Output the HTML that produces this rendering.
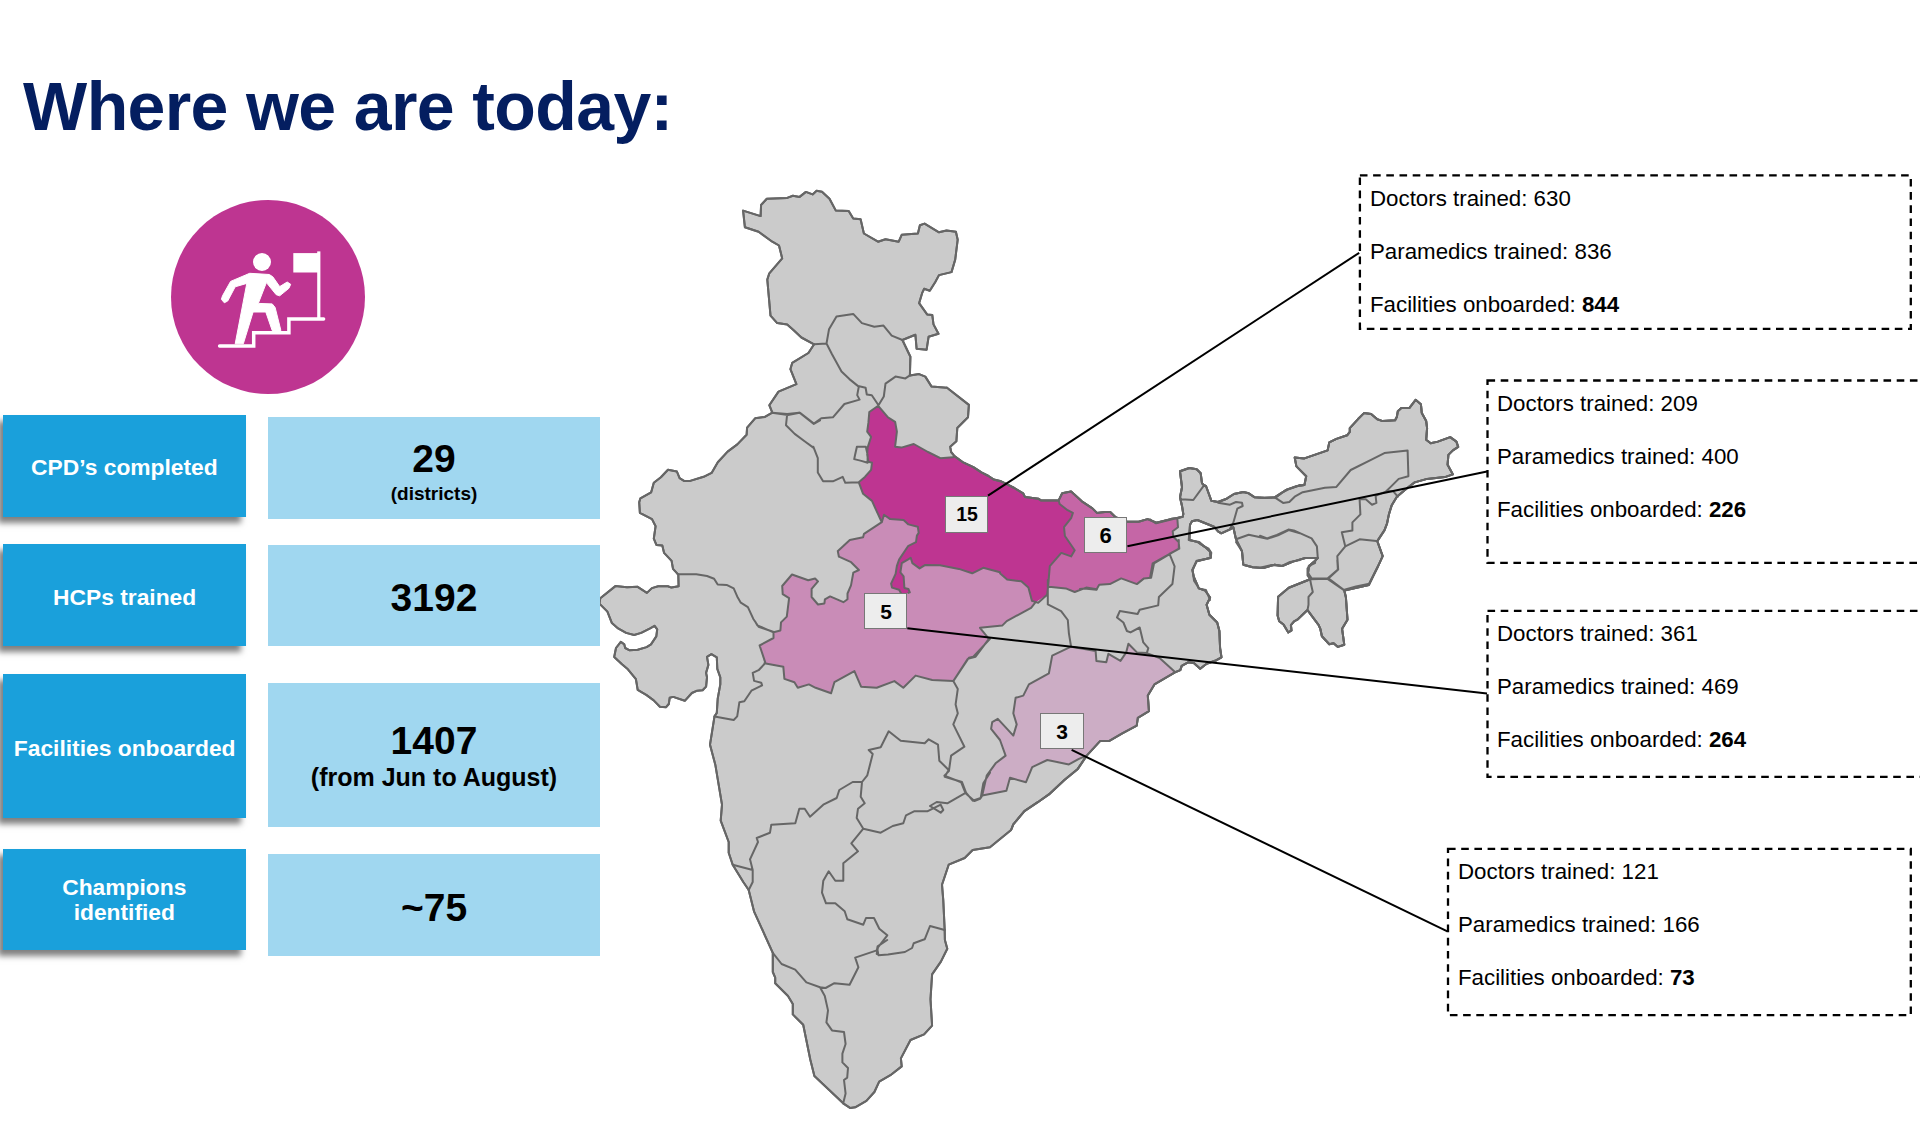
<!DOCTYPE html>
<html><head><meta charset="utf-8">
<style>
html,body{margin:0;padding:0;}
body{width:1920px;height:1125px;background:#fff;position:relative;overflow:hidden;font-family:"Liberation Sans",sans-serif;}
.t{position:absolute;white-space:nowrap;}
.lab{position:absolute;left:3px;width:243px;background:#1AA0DB;box-shadow:-5px 6px 6px rgba(0,0,0,0.5);}
.val{position:absolute;left:268px;width:332px;background:#A0D7F0;}
.mk{position:absolute;background:#EDEDED;border:1.5px solid #777;box-sizing:border-box;}
svg{position:absolute;left:0;top:0;}
</style></head><body>
<svg width="1920" height="1125" viewBox="0 0 1920 1125">
<circle cx="268" cy="297" r="97" fill="#BE3591"/>
<circle cx="262" cy="262" r="9" fill="#fff"/>
<rect x="293.3" y="253.1" width="25" height="19.4" fill="#fff"/>
<rect x="317.2" y="251.4" width="3.2" height="67" fill="#fff"/>
<polygon points="249.7,273.3 269.3,274.5 272.8,276.8 279.7,286.6 287.2,282.0 290.7,284.3 288.9,288.3 279.7,295.8 276.2,294.7 266.4,282.6 258.3,303.4 272.2,303.9 275.1,307.4 280.9,330.5 272.2,330.5 265.8,312.0 253.1,312.0 243.3,343.8 235.2,343.8 246.8,283.4 235.2,286.8 227.7,301.0 224.3,302.8 221.4,299.3 222.5,295.8 230.6,281.4" fill="#fff" stroke="#fff" stroke-width="1" stroke-linejoin="round"/>
<polyline points="219.6,346.1 253.7,346.1 253.7,332.8 288.9,332.8 288.9,318.9 323.6,318.9" fill="none" stroke="#fff" stroke-width="3.5" stroke-linecap="round"/>
<path d="M946.5,387.8 L931.6,386.6 L925.3,376.6 L919.1,374.1 L909.9,375.4 L910.4,356.7 L902.4,340.0 L915.4,334.8 L916.6,348.7 L926.6,349.7 L928.6,336.8 L938.5,333.8 L933.5,324.4 L932.3,315.1 L927.1,314.4 L919.1,303.2 L922.1,293.2 L924.1,288.8 L929.8,290.8 L935.3,282.0 L939.0,275.1 L951.5,272.1 L955.2,259.6 L957.7,239.7 L955.9,231.8 L946.5,230.5 L939.0,232.3 L924.6,223.6 L919.9,225.3 L917.9,233.5 L901.7,234.8 L898.7,241.7 L885.5,239.2 L878.0,241.7 L863.9,233.5 L860.6,219.3 L853.2,218.6 L848.7,211.1 L835.7,210.4 L829.5,198.7 L822.0,191.7 L816.6,190.7 L812.6,194.4 L805.9,191.9 L799.6,196.9 L792.9,195.7 L787.2,197.9 L766.8,198.7 L761.1,204.9 L760.6,216.1 L743.1,210.6 L744.9,227.3 L758.6,231.8 L772.3,241.7 L779.0,245.5 L782.2,258.4 L769.3,273.3 L767.3,279.6 L770.5,315.6 L777.2,323.1 L787.2,324.4 L793.4,330.1 L801.4,337.5 L814.1,344.3 L808.4,353.0 L792.2,362.9 L790.4,369.2 L796.4,384.1 L778.5,391.6 L769.3,405.2 L772.3,412.7 L764.9,416.9 L755.1,418.3 L747.1,427.6 L746.6,434.7 L737.3,444.4 L727.6,451.6 L717.8,462.2 L711.6,472.9 L703.6,476.8 L690.2,480.9 L684.0,480.9 L679.6,478.2 L676.9,471.5 L668.0,469.7 L660.9,477.3 L653.8,482.7 L651.1,492.4 L640.4,498.3 L639.2,502.2 L639.9,512.9 L652.0,519.1 L655.6,526.2 L653.8,538.7 L656.4,544.9 L662.3,545.4 L664.1,552.9 L671.6,560.9 L673.0,568.9 L678.3,574.6 L678.6,586.3 L671.4,587.6 L667.9,586.3 L658.1,586.3 L651.9,588.1 L646.9,592.9 L637.3,586.7 L627.0,587.2 L615.4,586.1 L600.3,598.2 L599.4,603.6 L607.4,611.6 L611.9,623.1 L618.1,628.4 L626.1,632.9 L634.1,635.0 L641.2,632.9 L650.1,628.4 L654.6,625.8 L657.2,629.3 L656.3,636.4 L651.0,644.4 L646.6,647.1 L637.7,649.8 L629.7,650.3 L625.2,648.0 L624.3,644.4 L620.8,641.8 L616.0,648.0 L614.2,656.9 L621.7,664.0 L627.9,669.3 L635.9,679.1 L637.7,689.8 L646.6,695.1 L653.7,700.4 L659.9,706.7 L666.1,707.2 L668.8,704.0 L669.7,697.8 L673.2,696.9 L684.8,700.8 L691.9,693.0 L697.2,690.7 L702.6,690.3 L706.1,686.6 L707.0,677.3 L706.1,672.9 L708.4,664.9 L707.0,656.9 L711.4,654.2 L716.8,657.4 L717.3,668.8 L720.3,677.3 L720.3,684.4 L717.7,698.7 L716.8,712.9 L714.5,716.4 L710.0,744.7 L715.3,764.7 L722.0,804.7 L720.7,820.7 L728.7,842.0 L728.7,852.7 L732.7,864.7 L743.3,882.0 L748.7,890.0 L754.0,911.3 L772.8,952.8 L772.8,972.0 L775.2,977.6 L775.2,983.2 L788.0,996.0 L792.8,1004.0 L792.8,1014.4 L803.2,1024.8 L810.4,1060.0 L814.4,1076.0 L843.2,1103.3 L850.4,1108.1 L855.2,1107.3 L866.4,1100.9 L874.4,1092.0 L879.2,1081.6 L890.4,1075.2 L901.7,1066.4 L900.9,1058.4 L910.5,1040.0 L924.1,1034.4 L932.1,1025.6 L930.5,999.2 L932.1,974.4 L940.9,961.6 L947.3,948.8 L944.9,940.0 L944.7,930.0 L943.3,900.7 L942.0,884.7 L948.7,864.7 L964.7,858.0 L972.7,850.0 L990.0,847.3 L1011.1,830.0 L1013.3,824.4 L1024.4,811.1 L1037.8,802.2 L1048.9,794.4 L1064.4,780.0 L1077.8,768.9 L1086.7,755.6 L1100.0,741.1 L1108.9,741.1 L1122.2,733.3 L1136.7,725.6 L1137.8,717.8 L1148.9,711.1 L1147.8,695.6 L1154.4,684.4 L1175.3,672.2 L1180.3,670.1 L1181.7,665.9 L1188.1,662.3 L1193.8,663.0 L1200.2,668.7 L1206.6,663.7 L1216.5,660.2 L1221.5,657.3 L1220.1,648.1 L1219.4,631.0 L1217.2,622.5 L1209.4,614.7 L1206.6,604.7 L1210.1,597.6 L1205.2,590.5 L1198.8,588.4 L1193.8,577.0 L1192.4,569.9 L1196.6,561.3 L1210.8,557.8 L1210.1,551.4 L1205.2,547.1 L1198.0,542.1 L1189.5,540.0 L1190.0,524.7 L1192.0,521.3 L1197.3,520.0 L1214.0,526.7 L1218.0,531.3 L1221.3,533.3 L1230.0,529.3 L1233.3,527.3 L1236.0,539.3 L1242.0,551.3 L1243.3,564.7 L1252.7,567.3 L1263.3,568.0 L1274.7,564.7 L1282.0,566.0 L1282.2,566.0 L1292.9,561.6 L1305.3,558.0 L1317.8,558.0 L1314.2,561.6 L1308.9,566.0 L1308.0,573.1 L1310.1,579.2 L1288.8,587.7 L1278.1,596.8 L1277.6,615.5 L1279.2,621.3 L1283.5,624.5 L1288.3,632.5 L1291.5,630.4 L1290.9,625.1 L1294.1,621.3 L1297.3,619.7 L1307.5,610.1 L1318.7,625.1 L1320.3,628.8 L1321.9,636.3 L1329.3,644.3 L1333.6,643.2 L1337.9,646.9 L1344.3,644.8 L1342.1,628.8 L1347.5,619.7 L1345.9,597.3 L1344.3,590.4 L1368.8,585.1 L1380.0,562.1 L1369.3,583.8 L1377.3,567.8 L1382.7,556.2 L1377.3,541.1 L1384.4,530.4 L1387.1,523.3 L1388.9,514.4 L1391.6,505.6 L1396.9,496.7 L1407.6,487.8 L1414.7,482.4 L1427.1,478.9 L1444.9,477.1 L1452.9,474.4 L1447.6,464.7 L1448.4,454.9 L1452.9,450.4 L1458.2,446.9 L1456.4,441.6 L1450.2,437.1 L1437.8,441.6 L1430.7,443.3 L1426.2,439.8 L1427.1,428.2 L1426.2,421.1 L1421.8,413.1 L1420.9,404.2 L1415.6,399.8 L1409.3,408.1 L1401.3,408.1 L1397.8,411.3 L1396.9,416.7 L1395.1,420.2 L1382.7,421.1 L1377.3,419.3 L1371.1,414.0 L1364.0,413.1 L1357.8,419.3 L1349.8,428.2 L1349.8,431.8 L1347.1,435.3 L1336.4,438.9 L1329.3,442.4 L1327.6,450.4 L1304.4,458.4 L1294.7,457.6 L1296.4,466.4 L1306.2,476.2 L1304.4,485.1 L1297.3,486.0 L1286.7,489.6 L1281.3,493.1 L1275.1,497.6 L1282.0,492.7 L1274.7,497.3 L1264.7,498.0 L1254.7,497.3 L1248.7,493.3 L1243.3,492.0 L1234.0,494.0 L1226.7,498.7 L1218.0,502.0 L1211.3,500.7 L1206.0,486.0 L1204.0,485.3 L1202.0,483.3 L1200.7,473.3 L1196.7,469.3 L1189.3,468.0 L1180.0,471.3 L1182.0,487.3 L1180.0,497.3 L1182.0,506.0 L1183.3,514.0 L1182.7,516.7 L1177.3,518.0 L1170.7,519.1 L1156.4,522.7 L1147.6,519.1 L1138.7,521.8 L1127.1,521.8 L1115.6,517.3 L1110.2,512.0 L1104.9,512.0 L1096.9,512.9 L1092.4,508.4 L1081.8,501.3 L1071.1,491.6 L1062.2,493.3 L1058.7,500.4 L1040.9,500.4 L1038.2,498.7 L1024.9,496.9 L1023.1,493.3 L1014.2,488.0 L1003.6,482.7 L1000.0,480.9 L993.8,479.6 L988.4,476.0 L981.3,472.4 L973.3,467.1 L963.6,462.7 L954.7,456.4 L951.1,452.0 L950.2,446.7 L956.4,441.3 L957.3,428.0 L968.0,417.3 L968.9,404.9 L946.7,387.5 Z" fill="#CBCBCB" stroke="#666" stroke-width="2" stroke-linejoin="round"/>
<path d="M838.2,550.7 L849.8,540.0 L863.1,537.3 L864.0,533.8 L881.8,522.2 L884.0,514.7 L890.2,519.1 L903.6,520.0 L908.4,524.4 L917.8,526.7 L918.7,532.9 L916.9,535.6 L916.0,542.2 L908.0,546.2 L899.1,559.6 L896.9,565.8 L895.6,573.8 L891.1,583.6 L892.0,587.6 L899.1,589.8 L900.9,592.9 L908.4,592.9 L909.8,592.4 L908.4,588.9 L904.4,588.0 L903.6,576.4 L900.4,572.4 L901.8,563.1 L910.7,557.8 L912.4,563.1 L919.6,568.4 L925.3,564.9 L940.0,565.3 L958.9,568.9 L972.2,573.3 L983.3,567.8 L1000.0,572.2 L1007.1,579.6 L1021.3,581.3 L1028.4,587.6 L1032.0,600.9 L1038.2,602.7 L1035.6,602.2 L1031.1,607.8 L1006.7,621.1 L1002.2,625.6 L980.0,627.8 L988.9,638.9 L975.6,656.7 L967.8,658.9 L953.3,681.1 L932.2,680.0 L915.6,675.6 L903.3,687.8 L894.4,681.1 L876.7,687.8 L861.1,686.7 L854.4,671.1 L834.4,682.2 L831.1,693.3 L815.6,687.8 L808.9,684.4 L797.8,687.8 L794.4,682.2 L784.4,678.9 L783.3,666.7 L764.4,663.3 L759.6,645.5 L773.5,638.0 L773.5,632.3 L780.4,630.5 L781.0,622.4 L786.8,616.6 L789.1,598.2 L782.7,594.1 L782.2,586.0 L792.0,574.5 L808.2,580.2 L815.1,578.5 L818.0,581.4 L811.6,588.9 L811.6,597.0 L818.0,604.5 L824.4,603.4 L824.9,599.3 L830.1,596.4 L843.4,602.2 L847.5,599.3 L847.5,593.5 L851.0,585.4 L853.3,572.7 L858.9,570.0 L851.1,562.2 L838.9,556.7 L837.8,551.1 Z" fill="#C98CB7" stroke="none"/>
<path d="M1095.6,651.1 L1084.4,648.9 L1071.1,646.7 L1052.2,655.6 L1048.9,673.3 L1028.9,684.4 L1023.3,695.6 L1015.6,697.8 L1013.3,713.3 L1016.7,724.4 L1013.3,735.6 L997.8,718.9 L992.2,722.2 L991.1,728.9 L1000.0,740.0 L1005.6,755.6 L995.6,763.3 L986.7,775.6 L982.2,795.6 L1006.4,790.8 L1010.0,777.8 L1026.0,782.2 L1032.2,767.1 L1047.3,760.0 L1068.9,764.4 L1078.9,758.9 L1086.7,755.6 L1100.0,741.1 L1108.9,741.1 L1122.2,733.3 L1136.7,725.6 L1137.8,717.8 L1148.9,711.1 L1147.8,695.6 L1154.4,684.4 L1175.3,672.2 L1159.6,658.0 L1146.8,653.1 L1136.9,652.4 L1128.4,643.8 L1126.2,652.4 L1120.5,660.9 L1108.4,653.8 L1106.3,662.3 L1096.4,660.9 L1095.6,650.9 Z" fill="#CCADC5" stroke="none"/>
<path d="M1058.7,500.4 L1062.2,493.3 L1071.1,491.6 L1081.8,501.3 L1092.4,508.4 L1096.9,512.9 L1104.9,512.0 L1110.2,512.0 L1115.6,517.3 L1127.1,521.8 L1138.7,521.8 L1147.6,519.1 L1156.4,522.7 L1170.7,519.1 L1177.8,518.2 L1178.0,527.3 L1172.7,531.3 L1173.3,536.7 L1178.7,542.0 L1178.8,548.5 L1169.6,554.2 L1154.0,563.5 L1151.1,577.7 L1144.0,578.4 L1136.9,584.1 L1121.2,578.4 L1109.9,584.1 L1099.2,584.8 L1096.4,589.8 L1084.3,588.4 L1080.0,589.1 L1086.2,587.6 L1074.7,592.0 L1065.8,588.4 L1048.9,586.7 L1048.0,587.6 L1049.8,566.2 L1061.3,552.9 L1071.1,556.4 L1074.7,550.2 L1064.9,536.0 L1064.0,527.1 L1071.1,518.2 L1072.9,512.9 L1067.6,510.2 L1059.6,504.0 Z" fill="#C566A6" stroke="none"/>
<path d="M878.2,405.8 L869.3,412.0 L868.4,422.7 L867.2,431.6 L871.1,436.9 L867.6,447.6 L867.2,454.7 L868.4,461.8 L872.0,462.7 L871.1,469.8 L864.9,476.9 L858.7,482.2 L863.1,493.8 L872.0,500.9 L876.4,510.7 L881.8,522.2 L884.0,514.7 L890.2,519.1 L903.6,520.0 L908.4,524.4 L917.8,526.7 L918.7,532.9 L916.9,535.6 L916.0,542.2 L908.0,546.2 L899.1,559.6 L896.9,565.8 L895.6,573.8 L891.1,583.6 L892.0,587.6 L899.1,589.8 L900.9,592.9 L908.4,592.9 L909.8,592.4 L908.4,588.9 L904.4,588.0 L903.6,576.4 L900.4,572.4 L901.8,563.1 L910.7,557.8 L912.4,563.1 L919.6,568.4 L925.3,564.9 L940.0,565.3 L958.9,568.9 L972.2,573.3 L983.3,567.8 L1000.0,572.2 L1007.1,579.6 L1021.3,581.3 L1028.4,587.6 L1032.0,600.9 L1038.2,602.7 L1030.0,597.8 L1035.6,602.2 L1047.1,594.7 L1048.0,587.6 L1049.8,566.2 L1061.3,552.9 L1071.1,556.4 L1074.7,550.2 L1064.9,536.0 L1064.0,527.1 L1071.1,518.2 L1072.9,512.9 L1067.6,510.2 L1059.6,504.0 L1058.7,500.4 L1040.9,500.4 L1038.2,498.7 L1024.9,496.9 L1023.1,493.3 L1014.2,488.0 L1003.6,482.7 L1000.0,480.9 L993.8,479.6 L988.4,476.0 L981.3,472.4 L973.3,467.1 L963.6,462.7 L954.7,456.4 L952.9,457.3 L940.4,458.2 L928.0,452.0 L913.8,444.0 L901.3,447.6 L895.1,446.7 L896.9,431.6 L895.1,421.8 L888.0,417.3 L878.2,405.8 Z" fill="#BE3591" stroke="none"/>
<path d="M714.5,716.4 L733.7,720.0 L737.2,716.4 L739.4,702.2 L744.3,701.3 L751.4,690.7 L762.1,685.3 L761.2,682.7 L754.1,680.9 L752.7,672.9 L758.6,670.2 L765.3,663.1 M773.7,632.0 L758.6,626.7 L753.2,618.7 L747.9,607.1 L740.8,602.7 L737.2,596.4 L733.7,588.4 L726.6,584.9 L717.7,584.5 L714.1,578.7 L707.0,576.0 L696.3,574.2 L677.7,574.2 M772.0,412.8 L788.0,415.1 L799.6,412.8 L813.8,424.0 L820.0,420.4 M814.1,344.3 L826.5,343.5 L829.0,329.3 L836.5,316.4 L853.2,313.9 L861.9,323.1 L874.3,326.8 L883.5,325.6 L891.7,335.6 L902.4,340.0 M909.9,375.4 L905.4,378.4 L895.5,376.6 L885.5,383.6 L883.8,396.5 L878.5,405.2 M826.5,343.5 L832.0,354.2 L841.5,371.6 L849.4,379.1 L858.1,386.1 L865.6,387.8 L866.8,394.5 L871.8,395.3 L878.5,405.2 M772.3,412.7 L787.2,414.0 L799.1,412.7 M787.2,414.0 L786.0,425.2 L794.7,433.9 L804.6,441.3 L813.3,447.6 M878.2,405.8 L869.3,412.0 L868.4,422.7 L867.2,431.6 L871.1,436.9 L867.6,447.6 L867.2,454.7 L868.4,461.8 L872.0,462.7 L871.1,469.8 L864.9,476.9 L858.7,482.2 L863.1,493.8 L872.0,500.9 L876.4,510.7 L881.8,522.2 M878.2,405.8 L888.0,417.3 L895.1,421.8 L896.9,431.6 L895.1,446.7 L901.3,447.6 L913.8,444.0 L928.0,452.0 L940.4,458.2 L952.9,457.3 L954.7,456.4 M954.7,456.4 L963.6,462.7 L973.3,467.1 L981.3,472.4 L988.4,476.0 L993.8,479.6 L1000.0,481.3 M856.9,446.7 L865.8,446.7 L867.6,454.7 L867.6,462.7 L861.3,460.9 L854.2,459.1 L855.1,454.7 L856.9,446.7 M800.0,412.9 L813.9,423.6 L821.3,418.2 L832.9,417.3 L844.4,404.0 L859.6,399.6 L857.2,395.1 L858.7,387.1 M813.3,446.7 L817.8,458.2 L817.8,472.4 L823.1,481.3 L832.9,481.3 L842.7,476.9 L845.3,482.8 L858.7,482.2 M838.2,550.7 L849.8,540.0 L863.1,537.3 L864.0,533.8 L881.8,522.2 M1000.0,480.9 L1003.6,482.7 L1014.2,488.0 L1023.1,493.3 L1024.9,496.9 L1038.2,498.7 L1040.9,500.4 L1058.7,500.4 M1058.7,500.4 L1059.6,504.0 L1067.6,510.2 L1072.9,512.9 L1071.1,518.2 L1064.0,527.1 L1064.9,536.0 L1074.7,550.2 L1071.1,556.4 L1061.3,552.9 L1049.8,566.2 L1048.0,587.6 L1047.1,594.7 L1038.2,602.7 M1000.0,573.3 L1007.1,579.6 L1021.3,581.3 L1028.4,587.6 L1032.0,600.9 L1038.2,602.7 M1058.7,500.4 L1062.2,493.3 L1071.1,491.6 L1081.8,501.3 L1092.4,508.4 L1096.9,512.9 L1104.9,512.0 L1110.2,512.0 L1115.6,517.3 L1127.1,521.8 L1138.7,521.8 L1147.6,519.1 L1156.4,522.7 L1170.7,519.1 L1177.8,518.2 M1096.9,589.3 L1086.2,587.6 L1074.7,592.0 L1065.8,588.4 L1048.9,586.7 M1189.5,540.0 L1198.0,542.1 L1205.2,547.1 L1210.1,551.4 L1210.8,557.8 L1196.6,561.3 L1192.4,569.9 L1193.8,577.0 L1198.8,588.4 L1205.2,590.5 L1210.1,597.6 L1206.6,604.7 L1209.4,614.7 L1217.2,622.5 L1219.4,631.0 L1220.1,648.1 L1221.5,657.3 L1216.5,660.2 L1206.6,663.7 L1200.2,668.7 L1193.8,663.0 L1188.1,662.3 L1181.7,665.9 L1180.3,670.1 L1175.3,672.3 M1178.8,540.0 L1178.8,548.5 L1169.6,554.2 L1154.0,563.5 L1151.1,577.7 L1144.0,578.4 L1136.9,584.1 L1121.2,578.4 L1109.9,584.1 L1099.2,584.8 L1096.4,589.8 L1084.3,588.4 L1080.0,589.1 M1169.6,554.2 L1174.6,566.3 L1172.4,584.1 L1158.9,596.9 L1158.2,605.4 L1139.7,609.7 L1137.6,614.0 L1119.8,611.1 L1117.0,617.5 L1123.4,622.5 L1126.9,631.0 L1130.5,632.4 L1139.7,627.5 L1143.3,642.4 L1148.3,648.1 L1146.8,653.1 M1095.6,650.9 L1096.4,660.9 L1106.3,662.3 L1108.4,653.8 L1120.5,660.9 L1126.2,652.4 L1128.4,643.8 L1136.9,652.4 L1146.8,653.1 M1146.8,653.1 L1159.6,658.0 L1175.3,672.3 M1180.0,471.3 L1189.3,468.0 L1196.7,469.3 L1200.7,473.3 L1202.0,483.3 L1204.0,485.3 L1193.3,500.0 L1181.3,499.3 L1180.0,497.3 L1182.0,487.3 L1180.0,471.3 M1177.3,518.0 L1182.7,516.7 L1183.3,514.0 L1182.0,506.0 L1180.0,497.3 M1204.0,485.3 L1206.0,486.0 L1211.3,500.7 L1218.0,502.0 L1226.7,498.7 L1234.0,494.0 L1243.3,492.0 L1248.7,493.3 L1254.7,497.3 L1264.7,498.0 L1274.7,497.3 L1282.0,492.7 L1290.0,488.7 L1300.0,485.3 M1218.0,502.7 L1230.0,504.7 L1236.0,502.0 L1242.0,502.7 L1242.7,506.0 L1237.3,508.7 L1233.3,522.7 L1230.0,528.7 M1188.7,540.0 L1190.0,524.7 L1192.0,521.3 L1197.3,520.0 L1214.0,526.7 L1218.0,531.3 L1221.3,533.3 L1230.0,529.3 L1233.3,527.3 L1236.0,539.3 M1236.0,539.3 L1248.7,534.7 L1267.3,538.7 L1278.0,535.3 L1288.7,530.0 L1300.0,533.3 M1236.0,542.0 L1242.0,551.3 L1243.3,564.7 L1252.7,567.3 L1263.3,568.0 L1274.7,564.7 L1282.0,566.0 L1290.0,562.0 L1300.0,560.0 M1188.7,540.0 L1199.3,542.0 L1204.7,546.7 L1208.7,548.7 L1211.3,552.7 L1210.7,558.0 L1196.7,560.7 L1192.7,570.0 L1194.0,580.7 L1199.3,588.7 L1206.0,590.0 L1210.0,600.0 M1150.0,519.3 L1156.0,523.3 L1177.3,518.0 L1178.0,527.3 L1172.7,531.3 L1173.3,536.7 L1178.7,542.0 L1179.3,548.7 L1169.3,554.0 L1152.7,563.3 L1150.0,578.0 M1260.0,497.6 L1275.1,497.6 L1281.3,493.1 L1286.7,489.6 L1297.3,486.0 L1304.4,485.1 L1306.2,476.2 L1296.4,466.4 L1294.7,457.6 L1304.4,458.4 L1327.6,450.4 L1329.3,442.4 L1336.4,438.9 L1347.1,435.3 L1349.8,431.8 L1349.8,428.2 L1357.8,419.3 L1364.0,413.1 L1371.1,414.0 L1377.3,419.3 L1382.7,421.1 L1395.1,420.2 L1396.9,416.7 L1397.8,411.3 L1401.3,408.1 L1409.3,408.1 L1415.6,399.8 L1420.9,404.2 L1421.8,413.1 L1426.2,421.1 L1427.1,428.2 L1426.2,439.8 L1430.7,443.3 L1437.8,441.6 L1450.2,437.1 L1456.4,441.6 L1458.2,446.9 L1452.9,450.4 L1448.4,454.9 L1447.6,464.7 L1452.9,474.4 L1444.9,477.1 L1427.1,478.9 L1414.7,482.4 L1407.6,487.8 L1396.9,496.7 L1391.6,505.6 L1388.9,514.4 L1387.1,523.3 L1384.4,530.4 L1377.3,541.1 L1382.7,556.2 L1377.3,567.8 L1369.3,583.8 L1356.0,586.4 L1343.6,590.0 M1275.1,497.6 L1283.1,502.9 L1289.3,502.0 L1294.7,496.7 L1302.7,492.2 L1324.9,487.8 L1336.4,486.9 L1350.7,470.0 L1372.0,459.3 L1384.4,453.1 L1407.6,450.4 L1408.4,476.2 L1398.7,478.9 L1390.7,486.9 L1386.2,491.3 L1375.6,495.8 L1376.4,502.9 L1372.0,504.7 L1365.8,499.3 L1359.6,499.3 M1359.6,499.3 L1360.4,514.4 L1352.4,522.4 L1352.4,530.4 L1341.8,532.2 L1345.3,546.4 M1345.3,546.4 L1359.6,539.3 L1376.4,541.1 M1345.3,546.4 L1337.3,556.2 L1338.2,569.6 L1328.4,578.4 L1342.7,589.1 M1260.0,535.8 L1267.1,538.4 L1276.9,534.9 L1288.4,529.6 L1293.8,530.4 L1311.6,538.4 L1316.9,546.4 L1317.8,558.0 L1305.3,558.0 L1292.9,561.6 L1282.2,566.0 L1270.7,565.1 L1260.0,567.8 M1317.8,558.0 L1314.2,561.6 L1308.9,566.0 L1308.0,573.1 L1311.6,578.4 L1328.4,578.4 M1386.2,491.3 L1393.3,491.3 L1397.8,496.7 M1310.1,579.2 L1288.8,587.7 L1278.1,596.8 L1277.6,615.5 L1279.2,621.3 L1283.5,624.5 L1288.3,632.5 L1291.5,630.4 L1290.9,625.1 L1294.1,621.3 L1297.3,619.7 L1307.5,610.1 L1308.5,604.8 L1308.5,596.8 L1312.8,592.0 L1311.2,585.1 L1310.1,579.2 M1310.1,579.2 L1327.2,578.7 L1344.3,590.4 L1345.9,597.3 L1347.5,619.7 L1342.1,628.8 L1344.3,644.8 L1337.9,646.9 L1333.6,643.2 L1329.3,644.3 L1321.9,636.3 L1320.3,628.8 L1318.7,625.1 L1307.5,610.1 M1310.1,579.2 L1307.5,575.5 L1307.5,568.5 L1311.2,564.8 L1314.9,563.2 L1315.5,560.0 M1337.3,560.0 L1337.9,569.6 L1327.2,578.7 M1344.3,590.4 L1368.8,585.1 L1380.0,562.1 M764.4,663.3 L783.3,666.7 L784.4,678.9 L794.4,682.2 L797.8,687.8 L808.9,684.4 L815.6,687.8 L831.1,693.3 L834.4,682.2 L854.4,671.1 L861.1,686.7 L876.7,687.8 L894.4,681.1 L903.3,687.8 L915.6,675.6 L932.2,680.0 L953.3,681.1 M953.3,681.1 L968.9,657.8 L973.3,656.7 L990.0,638.9 M953.3,681.1 L967.8,658.9 L975.6,656.7 L988.9,638.9 L980.0,627.8 L1002.2,625.6 L1006.7,621.1 L1031.1,607.8 L1035.6,602.2 M1047.8,580.0 L1047.8,604.4 L1061.1,611.1 L1067.8,620.0 L1068.9,633.3 L1071.1,646.7 M1095.6,651.1 L1084.4,648.9 L1071.1,646.7 L1052.2,655.6 L1048.9,673.3 L1028.9,684.4 L1023.3,695.6 L1015.6,697.8 L1013.3,713.3 L1016.7,724.4 L1013.3,735.6 L997.8,718.9 L992.2,722.2 L991.1,728.9 L1000.0,740.0 L1005.6,755.6 L995.6,763.3 L986.7,775.6 L982.2,795.6 M982.2,795.6 L1006.4,790.8 L1010.0,777.8 L1026.0,782.2 L1032.2,767.1 L1047.3,760.0 L1068.9,764.4 L1078.9,758.9 L1086.7,755.6 M1175.3,672.2 L1154.4,684.4 L1147.8,695.6 L1148.9,711.1 L1137.8,717.8 L1136.7,725.6 L1122.2,733.3 L1108.9,741.1 L1100.0,741.1 L1086.7,755.6 M1086.7,755.6 L1077.8,768.9 L1064.4,780.0 L1048.9,794.4 L1037.8,802.2 L1024.4,811.1 L1013.3,824.4 L1011.1,830.0 M953.3,681.1 L957.8,688.9 L955.6,704.4 L957.8,713.3 L953.3,724.4 L964.4,746.7 L951.1,755.6 L948.9,771.1 L944.4,775.6 L961.1,782.2 L965.6,793.3 L974.4,801.1 L980.0,798.9 L982.2,795.6 M732.7,864.7 L752.7,870.0 L750.0,859.3 M752.7,870.0 L752.7,882.0 L748.7,890.0 M750.0,859.3 L758.0,842.0 L756.7,838.0 L770.0,832.7 L771.3,824.7 L795.3,823.3 L799.3,808.7 L804.7,808.7 L810.0,816.7 L823.3,804.7 L836.7,798.0 L839.3,790.0 L852.7,782.0 L862.0,782.0 M862.0,782.0 L867.3,775.3 L872.7,754.0 L868.7,750.0 L880.7,747.3 L888.7,731.3 L900.7,740.7 L924.7,743.3 L928.7,739.3 L938.0,744.7 L939.3,760.7 L948.7,770.0 M948.7,770.0 L944.7,776.7 L962.0,782.0 L966.0,792.7 L972.7,800.7 L980.7,798.0 L983.3,783.3 L990.0,772.7 M966.0,792.7 L947.3,803.3 L936.7,802.0 L930.0,806.0 L940.7,812.7 L943.3,810.0 L940.7,804.7 L927.3,811.3 L914.0,811.3 L906.0,815.3 L903.3,823.3 L892.7,826.0 L880.7,832.7 L863.3,828.7 M862.0,782.0 L860.7,796.7 L864.7,803.3 L858.0,808.7 L856.7,818.0 L863.3,828.7 M863.3,828.7 L851.3,843.3 L858.0,851.3 L843.3,863.3 L843.3,880.7 L835.3,880.7 L828.7,871.3 L823.3,880.7 L822.0,892.7 L826.0,903.3 L835.3,903.3 L844.7,911.3 L847.3,919.3 L863.3,924.7 L866.0,918.0 L874.0,918.0 L879.3,928.7 L887.3,935.3 L878.0,947.3 L876.7,954.0 M772.8,952.8 L781.6,964.0 L795.2,969.6 L806.4,982.4 L820.0,987.2 M820.0,987.2 L825.6,988.0 L834.4,983.2 L849.6,984.8 L858.4,967.2 L855.2,957.6 L876.8,950.4 L877.6,946.4 L887.2,940.0 M820.0,987.2 L824.8,996.0 L828.0,1010.4 L826.4,1022.4 L832.0,1030.4 L844.0,1032.0 L845.6,1044.0 L842.4,1053.6 L842.4,1062.4 L848.0,1068.0 L847.2,1077.6 L844.0,1080.0 L845.6,1093.6 L843.2,1103.3 M877.6,950.4 L878.4,955.2 L888.0,954.4 L904.9,952.0 L912.1,948.0 L913.7,943.2 L922.5,940.0 L924.7,939.3 L930.0,926.0 L944.7,930.0 M881.8,522.2 L884.0,514.7 L890.2,519.1 L903.6,520.0 L908.4,524.4 L917.8,526.7 L918.7,532.9 L916.9,535.6 L916.0,542.2 L908.0,546.2 L899.1,559.6 L896.9,565.8 L895.6,573.8 L891.1,583.6 L892.0,587.6 L899.1,589.8 L900.9,592.9 M908.4,592.9 L909.8,592.4 L908.4,588.9 L904.4,588.0 L903.6,576.4 L900.4,572.4 L901.8,563.1 L910.7,557.8 L912.4,563.1 L919.6,568.4 L925.3,564.9 L940.0,565.3 L958.9,568.9 L972.2,573.3 L983.3,567.8 L1000.0,572.2 M837.8,551.1 L838.9,556.7 L851.1,562.2 L858.9,570.0 L853.3,572.7 L851.0,585.4 L847.5,593.5 L847.5,599.3 L843.4,602.2 L830.1,596.4 L824.9,599.3 L824.4,603.4 L818.0,604.5 L811.6,597.0 L811.6,588.9 L818.0,581.4 L815.1,578.5 L808.2,580.2 L792.0,574.5 L782.2,586.0 L782.7,594.1 L789.1,598.2 L786.8,616.6 L781.0,622.4 L780.4,630.5 L773.5,632.3 L773.5,638.0 L759.6,645.5 L765.4,662.9 M755.0,621.3 L757.3,625.3 L773.5,632.3" fill="none" stroke="#666" stroke-width="2" stroke-linejoin="round" stroke-linecap="round"/>
<path d="M946.5,387.8 L931.6,386.6 L925.3,376.6 L919.1,374.1 L909.9,375.4 L910.4,356.7 L902.4,340.0 L915.4,334.8 L916.6,348.7 L926.6,349.7 L928.6,336.8 L938.5,333.8 L933.5,324.4 L932.3,315.1 L927.1,314.4 L919.1,303.2 L922.1,293.2 L924.1,288.8 L929.8,290.8 L935.3,282.0 L939.0,275.1 L951.5,272.1 L955.2,259.6 L957.7,239.7 L955.9,231.8 L946.5,230.5 L939.0,232.3 L924.6,223.6 L919.9,225.3 L917.9,233.5 L901.7,234.8 L898.7,241.7 L885.5,239.2 L878.0,241.7 L863.9,233.5 L860.6,219.3 L853.2,218.6 L848.7,211.1 L835.7,210.4 L829.5,198.7 L822.0,191.7 L816.6,190.7 L812.6,194.4 L805.9,191.9 L799.6,196.9 L792.9,195.7 L787.2,197.9 L766.8,198.7 L761.1,204.9 L760.6,216.1 L743.1,210.6 L744.9,227.3 L758.6,231.8 L772.3,241.7 L779.0,245.5 L782.2,258.4 L769.3,273.3 L767.3,279.6 L770.5,315.6 L777.2,323.1 L787.2,324.4 L793.4,330.1 L801.4,337.5 L814.1,344.3 L808.4,353.0 L792.2,362.9 L790.4,369.2 L796.4,384.1 L778.5,391.6 L769.3,405.2 L772.3,412.7 L764.9,416.9 L755.1,418.3 L747.1,427.6 L746.6,434.7 L737.3,444.4 L727.6,451.6 L717.8,462.2 L711.6,472.9 L703.6,476.8 L690.2,480.9 L684.0,480.9 L679.6,478.2 L676.9,471.5 L668.0,469.7 L660.9,477.3 L653.8,482.7 L651.1,492.4 L640.4,498.3 L639.2,502.2 L639.9,512.9 L652.0,519.1 L655.6,526.2 L653.8,538.7 L656.4,544.9 L662.3,545.4 L664.1,552.9 L671.6,560.9 L673.0,568.9 L678.3,574.6 L678.6,586.3 L671.4,587.6 L667.9,586.3 L658.1,586.3 L651.9,588.1 L646.9,592.9 L637.3,586.7 L627.0,587.2 L615.4,586.1 L600.3,598.2 L599.4,603.6 L607.4,611.6 L611.9,623.1 L618.1,628.4 L626.1,632.9 L634.1,635.0 L641.2,632.9 L650.1,628.4 L654.6,625.8 L657.2,629.3 L656.3,636.4 L651.0,644.4 L646.6,647.1 L637.7,649.8 L629.7,650.3 L625.2,648.0 L624.3,644.4 L620.8,641.8 L616.0,648.0 L614.2,656.9 L621.7,664.0 L627.9,669.3 L635.9,679.1 L637.7,689.8 L646.6,695.1 L653.7,700.4 L659.9,706.7 L666.1,707.2 L668.8,704.0 L669.7,697.8 L673.2,696.9 L684.8,700.8 L691.9,693.0 L697.2,690.7 L702.6,690.3 L706.1,686.6 L707.0,677.3 L706.1,672.9 L708.4,664.9 L707.0,656.9 L711.4,654.2 L716.8,657.4 L717.3,668.8 L720.3,677.3 L720.3,684.4 L717.7,698.7 L716.8,712.9 L714.5,716.4 L710.0,744.7 L715.3,764.7 L722.0,804.7 L720.7,820.7 L728.7,842.0 L728.7,852.7 L732.7,864.7 L743.3,882.0 L748.7,890.0 L754.0,911.3 L772.8,952.8 L772.8,972.0 L775.2,977.6 L775.2,983.2 L788.0,996.0 L792.8,1004.0 L792.8,1014.4 L803.2,1024.8 L810.4,1060.0 L814.4,1076.0 L843.2,1103.3 L850.4,1108.1 L855.2,1107.3 L866.4,1100.9 L874.4,1092.0 L879.2,1081.6 L890.4,1075.2 L901.7,1066.4 L900.9,1058.4 L910.5,1040.0 L924.1,1034.4 L932.1,1025.6 L930.5,999.2 L932.1,974.4 L940.9,961.6 L947.3,948.8 L944.9,940.0 L944.7,930.0 L943.3,900.7 L942.0,884.7 L948.7,864.7 L964.7,858.0 L972.7,850.0 L990.0,847.3 L1011.1,830.0 L1013.3,824.4 L1024.4,811.1 L1037.8,802.2 L1048.9,794.4 L1064.4,780.0 L1077.8,768.9 L1086.7,755.6 L1100.0,741.1 L1108.9,741.1 L1122.2,733.3 L1136.7,725.6 L1137.8,717.8 L1148.9,711.1 L1147.8,695.6 L1154.4,684.4 L1175.3,672.2 L1180.3,670.1 L1181.7,665.9 L1188.1,662.3 L1193.8,663.0 L1200.2,668.7 L1206.6,663.7 L1216.5,660.2 L1221.5,657.3 L1220.1,648.1 L1219.4,631.0 L1217.2,622.5 L1209.4,614.7 L1206.6,604.7 L1210.1,597.6 L1205.2,590.5 L1198.8,588.4 L1193.8,577.0 L1192.4,569.9 L1196.6,561.3 L1210.8,557.8 L1210.1,551.4 L1205.2,547.1 L1198.0,542.1 L1189.5,540.0 L1190.0,524.7 L1192.0,521.3 L1197.3,520.0 L1214.0,526.7 L1218.0,531.3 L1221.3,533.3 L1230.0,529.3 L1233.3,527.3 L1236.0,539.3 L1242.0,551.3 L1243.3,564.7 L1252.7,567.3 L1263.3,568.0 L1274.7,564.7 L1282.0,566.0 L1282.2,566.0 L1292.9,561.6 L1305.3,558.0 L1317.8,558.0 L1314.2,561.6 L1308.9,566.0 L1308.0,573.1 L1310.1,579.2 L1288.8,587.7 L1278.1,596.8 L1277.6,615.5 L1279.2,621.3 L1283.5,624.5 L1288.3,632.5 L1291.5,630.4 L1290.9,625.1 L1294.1,621.3 L1297.3,619.7 L1307.5,610.1 L1318.7,625.1 L1320.3,628.8 L1321.9,636.3 L1329.3,644.3 L1333.6,643.2 L1337.9,646.9 L1344.3,644.8 L1342.1,628.8 L1347.5,619.7 L1345.9,597.3 L1344.3,590.4 L1368.8,585.1 L1380.0,562.1 L1369.3,583.8 L1377.3,567.8 L1382.7,556.2 L1377.3,541.1 L1384.4,530.4 L1387.1,523.3 L1388.9,514.4 L1391.6,505.6 L1396.9,496.7 L1407.6,487.8 L1414.7,482.4 L1427.1,478.9 L1444.9,477.1 L1452.9,474.4 L1447.6,464.7 L1448.4,454.9 L1452.9,450.4 L1458.2,446.9 L1456.4,441.6 L1450.2,437.1 L1437.8,441.6 L1430.7,443.3 L1426.2,439.8 L1427.1,428.2 L1426.2,421.1 L1421.8,413.1 L1420.9,404.2 L1415.6,399.8 L1409.3,408.1 L1401.3,408.1 L1397.8,411.3 L1396.9,416.7 L1395.1,420.2 L1382.7,421.1 L1377.3,419.3 L1371.1,414.0 L1364.0,413.1 L1357.8,419.3 L1349.8,428.2 L1349.8,431.8 L1347.1,435.3 L1336.4,438.9 L1329.3,442.4 L1327.6,450.4 L1304.4,458.4 L1294.7,457.6 L1296.4,466.4 L1306.2,476.2 L1304.4,485.1 L1297.3,486.0 L1286.7,489.6 L1281.3,493.1 L1275.1,497.6 L1282.0,492.7 L1274.7,497.3 L1264.7,498.0 L1254.7,497.3 L1248.7,493.3 L1243.3,492.0 L1234.0,494.0 L1226.7,498.7 L1218.0,502.0 L1211.3,500.7 L1206.0,486.0 L1204.0,485.3 L1202.0,483.3 L1200.7,473.3 L1196.7,469.3 L1189.3,468.0 L1180.0,471.3 L1182.0,487.3 L1180.0,497.3 L1182.0,506.0 L1183.3,514.0 L1182.7,516.7 L1177.3,518.0 L1170.7,519.1 L1156.4,522.7 L1147.6,519.1 L1138.7,521.8 L1127.1,521.8 L1115.6,517.3 L1110.2,512.0 L1104.9,512.0 L1096.9,512.9 L1092.4,508.4 L1081.8,501.3 L1071.1,491.6 L1062.2,493.3 L1058.7,500.4 L1040.9,500.4 L1038.2,498.7 L1024.9,496.9 L1023.1,493.3 L1014.2,488.0 L1003.6,482.7 L1000.0,480.9 L993.8,479.6 L988.4,476.0 L981.3,472.4 L973.3,467.1 L963.6,462.7 L954.7,456.4 L951.1,452.0 L950.2,446.7 L956.4,441.3 L957.3,428.0 L968.0,417.3 L968.9,404.9 L946.7,387.5 Z" fill="none" stroke="#666" stroke-width="2" stroke-linejoin="round"/>
<g stroke="#000" stroke-width="2" fill="none">
<line x1="988" y1="495.6" x2="1359.2" y2="252.8"/>
<line x1="1127.4" y1="546.2" x2="1487" y2="471.5"/>
<line x1="907.3" y1="628.3" x2="1487" y2="693.5"/>
<line x1="1071.6" y1="749.9" x2="1447.4" y2="931.3"/>
</g>
<g stroke="#000" stroke-width="2.3" fill="none" stroke-dasharray="7.6 5.6">
<rect x="1359.9" y="175.4" width="550.9" height="153.5"/>
<rect x="1487.5" y="380.5" width="480" height="182.3"/>
<rect x="1487.5" y="610.8" width="480" height="166.1"/>
<rect x="1448" y="848.8" width="462.8" height="166.3"/>
</g>
</svg>
<div class="lab" style="top:415px;height:102px;"></div>
<div class="val" style="top:417px;height:102px;"></div>
<div class="lab" style="top:544px;height:102px;"></div>
<div class="val" style="top:545px;height:101px;"></div>
<div class="lab" style="top:674px;height:144px;"></div>
<div class="val" style="top:683px;height:144px;"></div>
<div class="lab" style="top:849px;height:101px;"></div>
<div class="val" style="top:854px;height:102px;"></div>
<div class="mk" style="left:945px;top:496px;width:43px;height:37px;"></div>
<div class="mk" style="left:1084px;top:517px;width:43px;height:36px;"></div>
<div class="mk" style="left:864px;top:593px;width:43px;height:36px;"></div>
<div class="mk" style="left:1040px;top:713px;width:44px;height:36px;"></div>
<div class="t" style="left:23.10px;top:72.24px;font-size:68px;line-height:68px;font-weight:bold;color:#041E60;letter-spacing:-0.62px;">Where we are today:</div>
<div class="t" style="left:-275.60px;width:800px;text-align:center;top:455.70px;font-size:22.8px;line-height:22.8px;font-weight:bold;color:#fff;">CPD’s completed</div>
<div class="t" style="left:-275.35px;width:800px;text-align:center;top:585.70px;font-size:22.8px;line-height:22.8px;font-weight:bold;color:#fff;">HCPs trained</div>
<div class="t" style="left:-275.35px;width:800px;text-align:center;top:736.60px;font-size:22.8px;line-height:22.8px;font-weight:bold;color:#fff;">Facilities onboarded</div>
<div class="t" style="left:-275.70px;width:800px;text-align:center;top:876.40px;font-size:22.8px;line-height:22.8px;font-weight:bold;color:#fff;">Champions</div>
<div class="t" style="left:-275.70px;width:800px;text-align:center;top:901.30px;font-size:22.8px;line-height:22.8px;font-weight:bold;color:#fff;">identified</div>
<div class="t" style="left:34.00px;width:800px;text-align:center;top:438.99px;font-size:39px;line-height:39px;font-weight:bold;color:#000;">29</div>
<div class="t" style="left:34.00px;width:800px;text-align:center;top:483.62px;font-size:19px;line-height:19px;font-weight:bold;color:#000;">(districts)</div>
<div class="t" style="left:34.00px;width:800px;text-align:center;top:578.49px;font-size:39px;line-height:39px;font-weight:bold;color:#000;">3192</div>
<div class="t" style="left:34.00px;width:800px;text-align:center;top:720.59px;font-size:39px;line-height:39px;font-weight:bold;color:#000;">1407</div>
<div class="t" style="left:34.00px;width:800px;text-align:center;top:765.44px;font-size:25px;line-height:25px;font-weight:bold;color:#000;">(from Jun to August)</div>
<div class="t" style="left:34.00px;width:800px;text-align:center;top:887.89px;font-size:39px;line-height:39px;font-weight:bold;color:#000;">~75</div>
<div class="t" style="left:567.00px;width:800px;text-align:center;top:505.39px;font-size:19.5px;line-height:19.5px;font-weight:bold;color:#000;">15</div>
<div class="t" style="left:705.50px;width:800px;text-align:center;top:524.58px;font-size:22px;line-height:22px;font-weight:bold;color:#000;">6</div>
<div class="t" style="left:486.00px;width:800px;text-align:center;top:601.02px;font-size:21px;line-height:21px;font-weight:bold;color:#000;">5</div>
<div class="t" style="left:662.00px;width:800px;text-align:center;top:721.42px;font-size:21px;line-height:21px;font-weight:bold;color:#000;">3</div>
<div class="t" style="left:1370.00px;top:187.82px;font-size:22.3px;line-height:22.3px;font-weight:normal;color:#000;">Doctors trained: 630</div>
<div class="t" style="left:1370.00px;top:240.82px;font-size:22.3px;line-height:22.3px;font-weight:normal;color:#000;">Paramedics trained: 836</div>
<div class="t" style="left:1370.00px;top:293.82px;font-size:22.3px;line-height:22.3px;font-weight:normal;color:#000;">Facilities onboarded: <b>844</b></div>
<div class="t" style="left:1497.00px;top:393.12px;font-size:22.3px;line-height:22.3px;font-weight:normal;color:#000;">Doctors trained: 209</div>
<div class="t" style="left:1497.00px;top:446.12px;font-size:22.3px;line-height:22.3px;font-weight:normal;color:#000;">Paramedics trained: 400</div>
<div class="t" style="left:1497.00px;top:499.12px;font-size:22.3px;line-height:22.3px;font-weight:normal;color:#000;">Facilities onboarded: <b>226</b></div>
<div class="t" style="left:1497.00px;top:623.12px;font-size:22.3px;line-height:22.3px;font-weight:normal;color:#000;">Doctors trained: 361</div>
<div class="t" style="left:1497.00px;top:676.12px;font-size:22.3px;line-height:22.3px;font-weight:normal;color:#000;">Paramedics trained: 469</div>
<div class="t" style="left:1497.00px;top:729.12px;font-size:22.3px;line-height:22.3px;font-weight:normal;color:#000;">Facilities onboarded: <b>264</b></div>
<div class="t" style="left:1458.00px;top:861.12px;font-size:22.3px;line-height:22.3px;font-weight:normal;color:#000;">Doctors trained: 121</div>
<div class="t" style="left:1458.00px;top:914.22px;font-size:22.3px;line-height:22.3px;font-weight:normal;color:#000;">Paramedics trained: 166</div>
<div class="t" style="left:1458.00px;top:967.22px;font-size:22.3px;line-height:22.3px;font-weight:normal;color:#000;">Facilities onboarded: <b>73</b></div>
</body></html>
